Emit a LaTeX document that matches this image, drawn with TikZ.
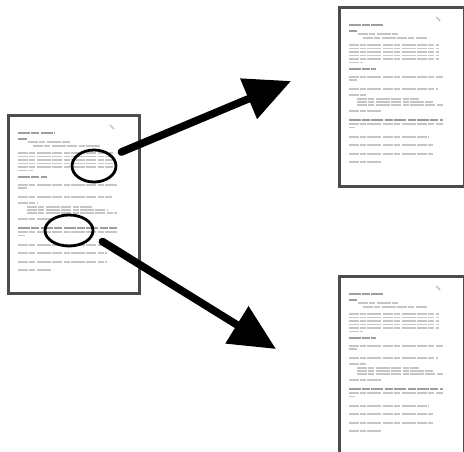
\documentclass[tikz,border=0pt]{standalone}
\usetikzlibrary{arrows.meta,shapes.geometric}
\tikzset{
    txt/.style={gray!45, line width=0.8pt, dash pattern={on 5pt off 0.7pt on 3pt off 0.7pt on 7pt off 0.7pt}},
    boldtxt/.style={gray!75, line width=0.9pt, dash pattern={on 6pt off 0.7pt on 4pt off 0.7pt}},
    pageframe/.style={draw=gray!60!black, line width=1.4pt, fill=white, inner sep=0pt, anchor=north west},
    circmark/.style={ellipse, draw=black, line width=1.4pt, inner sep=0pt},
    bigarrow/.style={line width=3.8pt, line cap=round, -{Triangle[length=23pt, width=21pt]}},
    % the printed lines of one page, page corner at the origin
    docpage/.pic={
        \draw[txt] (103,11) -- (107,15);
        \draw[boldtxt] (11,19) -- (48,19);
        \draw[boldtxt] (11,25) -- (20,25);
        \draw[txt] (21,28) -- (63,28);
        \draw[txt] (26,32) -- (93,32);
        \foreach \y in {39,42.5,46,49.5,53}
            \draw[txt] (11,\y) -- (106,\y);
        \draw[txt] (11,56.5) -- (26,56.5);
        \draw[boldtxt] (11,63) -- (40,63);
        \draw[txt] (11,71) -- (110,71);
        \draw[txt] (11,74) -- (20,74);
        \draw[txt] (11,83) -- (105,83);
        \draw[txt] (11,89) -- (30,89);
        \foreach \y/\l in {93/85,96/100,99/110}
            \draw[txt] (20,\y) -- (\l,\y);
        \draw[txt] (11,105) -- (45,105);
        \draw[boldtxt] (11,114) -- (110,114);
        \draw[txt] (11,118) -- (110,118);
        \draw[txt] (11,121.5) -- (18,121.5);
        \foreach \y/\l in {131/95,139/100,148/100,156/45}
            \draw[txt] (11,\y) -- (\l,\y);
    }
}
\begin{document}
\begin{tikzpicture}[x=0.5pt, y=-0.5pt]
    \clip (0,0) rectangle (464,451);
    \fill[white] (0,0) rectangle (464,451);

    % source page
    \node[pageframe, minimum width=65.5pt, minimum height=89pt] (src) at (7,114) {};
    \pic at (src.north west) {docpage};
    \node[circmark, minimum width=22pt, minimum height=16pt] (e1) at (94,166) {};
    \node[circmark, minimum width=24pt, minimum height=15.5pt] (e2) at (69,230.5) {};

    % target pages
    \node[pageframe, minimum width=62.5pt, minimum height=89.5pt] (upper) at (338,6) {};
    \pic[xscale=0.954] at (upper.north west) {docpage};
    \node[pageframe, minimum width=62.5pt, minimum height=90pt] (lower) at (338,275) {};
    \pic[xscale=0.954] at (lower.north west) {docpage};

    % arrows
    \coordinate (tipA) at (291,81);
    \coordinate (tipB) at (276,349);
    \draw[bigarrow] ([shift={(4,-14)}]e1.east) -- (tipA);
    \draw[bigarrow] ([shift={(8,11)}]e2.east) -- (tipB);
\end{tikzpicture}
\end{document}
